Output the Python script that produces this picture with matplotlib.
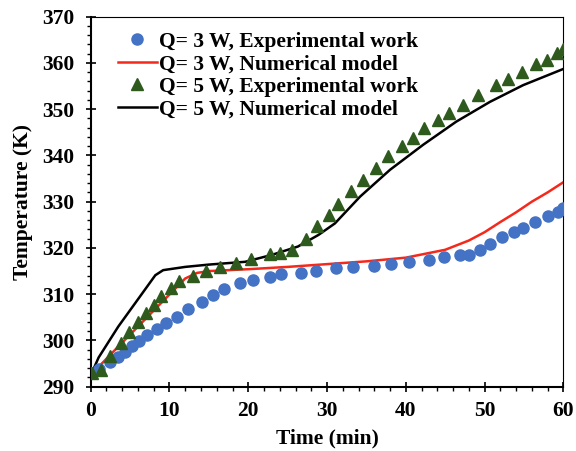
import matplotlib
matplotlib.use("Agg")
import matplotlib.pyplot as plt
from matplotlib.ticker import MultipleLocator

# Q = 3 W experimental
t3_exp = [0, 1, 2.4, 3.5, 4.3, 5.2, 6.1, 7.1, 8.4, 9.6, 11.0, 12.4, 14.1, 15.5, 16.9,
          18.9, 20.6, 22.8, 24.2, 26.7, 28.6, 31.2, 33.3, 36.0, 38.1, 40.4, 43.0, 44.9,
          46.9, 48.0, 49.4, 50.7, 52.2, 53.8, 54.9, 56.4, 58.0, 59.3, 60.0]
T3_exp = [293.0, 293.8, 295.3, 296.5, 297.6, 298.8, 299.9, 301.2, 302.4, 303.7, 305.1,
          306.7, 308.4, 309.8, 311.1, 312.4, 313.1, 313.8, 314.3, 314.6, 315.1, 315.6,
          315.8, 316.2, 316.6, 317.0, 317.4, 318.0, 318.4, 318.4, 319.5, 320.9, 322.3,
          323.4, 324.4, 325.5, 326.8, 327.8, 328.6]

# Q = 3 W numerical
t3_num = [0, 0.5, 3, 6, 9, 12, 13.5, 15, 20, 25, 30, 35, 40, 45, 48, 50, 52, 54, 56, 58, 60]
T3_num = [293.0, 293.4, 297.8, 303.0, 308.2, 313.4, 314.6, 315.0, 315.4, 315.9, 316.5,
          317.1, 317.9, 319.6, 321.6, 323.4, 325.6, 327.7, 330.0, 332.0, 334.2]

# Q = 5 W experimental
t5_exp = [0.1, 1.3, 2.4, 3.8, 4.9, 6.0, 7.0, 8.0, 8.9, 10.2, 11.2, 13.0, 14.6, 16.4,
          18.4, 20.4, 22.7, 24.0, 25.6, 27.3, 28.7, 30.2, 31.4, 33.0, 34.6, 36.2, 37.8,
          39.5, 40.9, 42.3, 44.1, 45.5, 47.3, 49.2, 51.5, 53.0, 54.7, 56.5, 57.9, 59.2, 60.0]
T5_exp = [292.9, 293.6, 296.6, 299.4, 301.8, 303.9, 305.9, 307.7, 309.5, 311.3, 312.9,
          314.0, 315.1, 315.9, 316.8, 317.6, 318.7, 319.0, 319.5, 322.0, 324.7, 327.1,
          329.4, 332.4, 334.7, 337.2, 339.9, 342.0, 343.7, 345.9, 347.7, 349.2, 350.9,
          353.1, 355.2, 356.5, 358.1, 359.7, 360.6, 362.1, 363.0]

# Q = 5 W numerical
t5_num = [0, 0.3, 1, 3.5, 6, 8.2, 9.2, 12, 15, 19.6, 23, 26.3, 28.9, 31, 34.2, 38,
          42.2, 46.4, 50.7, 54.9, 60]
T5_num = [293.0, 293.6, 296.3, 303.0, 308.9, 314.1, 315.2, 315.9, 316.4, 317.0, 318.5,
          320.3, 322.8, 325.3, 331.1, 336.9, 342.3, 347.3, 351.6, 355.2, 358.7]

labels = ["Q= 3 W, Experimental work", "Q= 3 W, Numerical model",
          "Q= 5 W, Experimental work", "Q= 5 W, Numerical model"]

plt.rcParams['font.family'] = ['Liberation Serif', 'DejaVu Serif']
plt.rcParams['font.weight'] = 'bold'

fig = plt.figure(figsize=(5.76, 4.51), dpi=100)
ax = fig.add_axes([0.1575, 0.1426, 0.8205, 0.8204])

ax.plot(t3_exp, T3_exp, 'o', color='#4472C4', ms=8, mec='#4472C4', label=labels[0], zorder=3)
ax.plot(t3_num, T3_num, '-', color='#F5281C', lw=1.8, label=labels[1], zorder=2)
ax.plot(t5_exp, T5_exp, '^', color='#2F5A1E', ms=8.5, mec='#2F5A1E', label=labels[2], zorder=3)
ax.plot(t5_num, T5_num, '-', color='black', lw=1.8, label=labels[3], zorder=2)

ax.set_xlim(0, 60)
ax.set_ylim(290, 370)
ax.xaxis.set_major_locator(MultipleLocator(10))
ax.xaxis.set_minor_locator(MultipleLocator(2))
ax.yaxis.set_major_locator(MultipleLocator(10))
ax.yaxis.set_minor_locator(MultipleLocator(2))

ax.tick_params(which='major', direction='inout', length=7, width=1.2, labelsize=15.5)
ax.tick_params(axis='y', which='major', pad=8)
ax.tick_params(axis='x', which='major', pad=7)
ax.tick_params(which='minor', direction='out', length=3, width=1.0)
for lab in ax.get_xticklabels() + ax.get_yticklabels():
    lab.set_fontweight('bold')

ax.spines['left'].set_linewidth(1.5)
ax.spines['bottom'].set_linewidth(1.5)
ax.spines['top'].set_linewidth(0.8)
ax.spines['right'].set_linewidth(0.8)

ax.set_xlabel('Time (min)', fontsize=15.5, fontweight='bold', labelpad=5)
ax.set_ylabel('Temperature (K)', fontsize=15.5, fontweight='bold', labelpad=7)

leg = ax.legend(loc='upper left', bbox_to_anchor=(0.03, 0.995), frameon=False,
                prop={'family': 'Liberation Serif', 'weight': 'bold', 'size': 15.5},
                handlelength=1.8, handletextpad=0.1, labelspacing=0.12, borderaxespad=0.2)

fig.savefig('out.png', dpi=100)
